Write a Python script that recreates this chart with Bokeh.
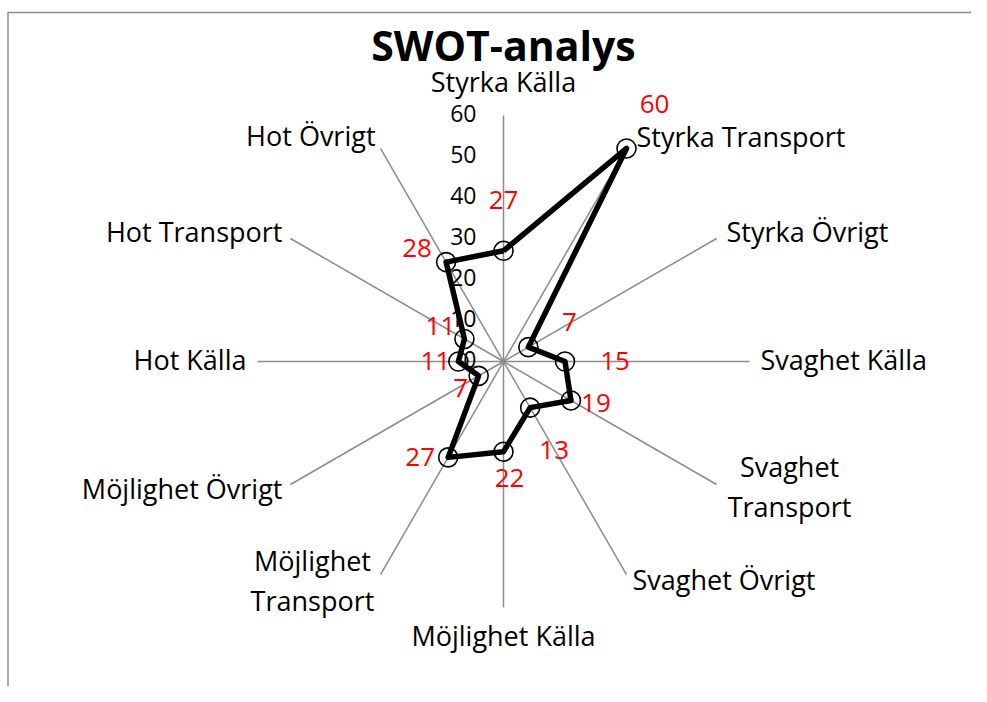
import numpy as np
from bokeh.plotting import figure
from bokeh.models import Range1d, ColumnDataSource
from bokeh.core.properties import value
from bokeh.embed import file_html
from bokeh.resources import INLINE

# ---- data ----
categories = ["Styrka Källa", "Styrka Transport", "Styrka Övrigt",
              "Svaghet Källa", "Svaghet\nTransport", "Svaghet Övrigt",
              "Möjlighet Källa", "Möjlighet\nTransport", "Möjlighet Övrigt",
              "Hot Källa", "Hot Transport", "Hot Övrigt"]
values = [27, 60, 7, 15, 19, 13, 22, 27, 7, 11, 11, 28]
tick_values = [0, 10, 20, 30, 40, 50, 60]
title_text = "SWOT-analys"

# ---- styling / layout (screen px) ----
W, H = 971, 686
CX, CY = 503, 361          # radar centre inside the canvas (from left / top)
R = 246.0                  # radius of the value 60
VMAX = 60.0
k = R / VMAX
FONT = "Open Sans"
TY = 2                     # small upward nudge for text

# label anchor offsets from spoke ends (px) and alignments
lab_dx = [0, 10, 10, 11, 73, 6, 0, -68, -8, -11, -8, -5]
lab_dy = [32, 10, 5, 0, -4, -7, -30, -8, -6, 0, 5, 11]
lab_align = ["center", "left", "left", "left", "center", "left",
             "center", "center", "right", "right", "right", "right"]
# data label offsets from points (px)
dl_dx = [0, 28, 41, 50, 25, 24, 6, -28, -18, -23, -24, -29]
dl_dy = [49, 42, 23, -1, -5, -44, -28, -2, -14, -1, 11, 12]

n = len(categories)
theta = np.arange(n) * 2 * np.pi / n
sx, cy_ = np.sin(theta), np.cos(theta)

p = figure(width=W, height=H, output_backend="svg", toolbar_location=None,
           x_range=Range1d(-CX, W - CX), y_range=Range1d(-(H - CY), CY),
           min_border=0)
p.axis.visible = False
p.grid.visible = False
p.outline_line_color = None
p.background_fill_color = "white"
p.border_fill_color = "white"

# chart-area border (top and left edges visible)
p.segment(x0=[-CX + 7, -CX + 7.5], y0=[CY - 12, CY - 12], x1=[W - CX, -CX + 7.5], y1=[CY - 12, -(H - CY)],
          line_color="#8c8c8c", line_width=1.5)

# spokes
ex, ey = R * sx, R * cy_
p.segment(x0=np.zeros(n), y0=np.zeros(n), x1=ex, y1=ey, line_color="#8c8c8c", line_width=1.5)

# radial tick labels
p.text(x=[-27] * len(tick_values), y=[v * k + TY for v in tick_values], text=[str(v) for v in tick_values],
       text_font=value(FONT), text_font_size="23px", text_align="right", text_baseline="middle",
       text_color="#000000")

# series
vals = np.array(values, dtype=float)
px, py = vals * k * sx, vals * k * cy_
p.line(x=np.append(px, px[0]), y=np.append(py, py[0]), line_color="black", line_width=5.5,
       line_join="round")
p.scatter(x=px, y=py, marker="circle", size=19, fill_alpha=0, line_color="black", line_width=1.6)

# data labels
p.text(x=px + np.array(dl_dx), y=py + np.array(dl_dy) + TY, text=[str(v) for v in values],
       text_font=value(FONT), text_font_size="26px", text_align="center", text_baseline="middle",
       text_color="#ff0000")

# category labels
src = ColumnDataSource(dict(x=ex + np.array(lab_dx), y=ey + np.array(lab_dy) + TY, text=categories,
                            align=lab_align))
p.text(x="x", y="y", text="text", text_align="align", source=src, text_font=value(FONT),
       text_font_size="27px", text_baseline="middle", text_color="#000000", text_line_height=1.06)

# title
p.text(x=[0], y=[CY - 44], text=[title_text], text_font=value(FONT), text_font_size="41px",
       text_font_style="bold", text_align="center", text_baseline="middle", text_color="#000000")

open("out.html", "w").write(file_html(p, INLINE))
